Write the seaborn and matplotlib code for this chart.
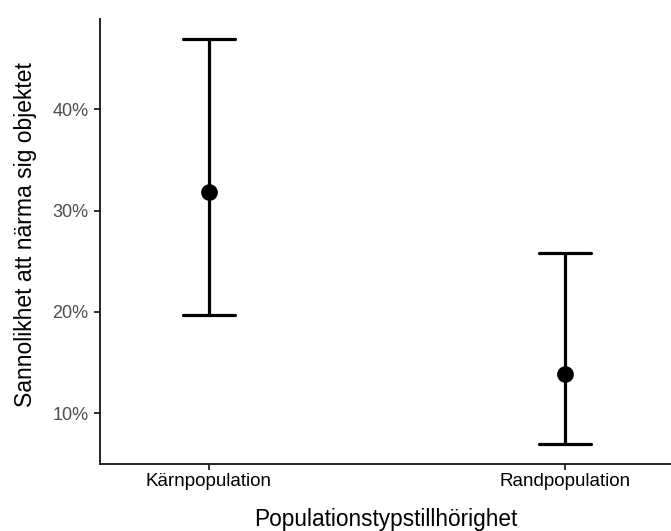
import pandas as pd
import matplotlib
matplotlib.use("Agg")
import matplotlib.pyplot as plt
import seaborn as sns
from matplotlib.ticker import FuncFormatter

# data (procent), läst från figuren
grupper = ["Kärnpopulation", "Randpopulation"]
skattning = [31.8, 13.9]
nedre = [19.7, 7.0]
ovre = [46.9, 25.8]

# long-form: median av (nedre, skattning, övre) = skattning, pi 100 = nedre..övre
rader = []
for g, lo, est, hi in zip(grupper, nedre, skattning, ovre):
    for v in (lo, est, hi):
        rader.append({"grupp": g, "varde": v})
df = pd.DataFrame(rader)

sns.set_theme(style="white")
plt.rcParams['font.family'] = ['Liberation Sans', 'DejaVu Sans']

fig = plt.figure(figsize=(6.71, 5.31), dpi=100)
ax = fig.add_axes([100 / 671, 1 - 464 / 531, 571 / 671, 445 / 531])

sns.pointplot(data=df, x="grupp", y="varde", estimator="median",
              errorbar=("pi", 100), color="black", linestyle="none",
              capsize=0.146, err_kws={"linewidth": 2.3},
              markersize=10, ax=ax)

ax.set_xlim(-0.306, 1.298)
ax.set_ylim(5.0, 48.9)
ax.set_yticks([10, 20, 30, 40])
ax.yaxis.set_major_formatter(FuncFormatter(lambda v, p: f"{v:.0f}%"))

sns.despine(ax=ax)
for s in ["left", "bottom"]:
    ax.spines[s].set_linewidth(1.4)
    ax.spines[s].set_color("#222222")

ax.tick_params(axis="y", length=4.3, width=1.4, color="#333333",
               labelsize=13, labelcolor="#4D4D4D", pad=4, left=True)
ax.tick_params(axis="x", length=4.3, width=1.4, color="#333333",
               labelsize=13.5, labelcolor="black", pad=2, bottom=True)

ax.set_xlabel("Populationstypstillhörighet", fontsize=16.3, labelpad=13, color="black")
ax.set_ylabel("Sannolikhet att närma sig objektet", fontsize=16.5, color="black")
ax.yaxis.set_label_coords(-0.110, 0.515)

fig.savefig("out.png", dpi=100)
